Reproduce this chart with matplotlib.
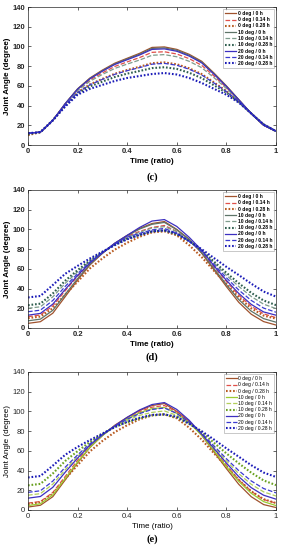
import matplotlib
matplotlib.use("Agg")
import matplotlib.pyplot as plt

plt.rcParams['font.family'] = ['Liberation Sans', 'DejaVu Sans']

time_ratio = [0, 0.05, 0.1, 0.15, 0.2, 0.25, 0.3, 0.35, 0.4, 0.45, 0.5,
              0.55, 0.6, 0.65, 0.7, 0.75, 0.8, 0.85, 0.9, 0.95, 1.0]

labels = ["0 deg / 0 h", "0 deg / 0.14 h", "0 deg / 0.28 h",
          "10 deg / 0 h", "10 deg / 0.14 h", "10 deg / 0.28 h",
          "20 deg / 0 h", "20 deg / 0.14 h", "20 deg / 0.28 h"]

# ---- panel (c) ----
c_0deg_0h    = [12, 13, 25, 42.0, 57.0, 68.0, 76.0, 83.0, 88.0, 93.0, 99.0, 99.5, 97.0, 92.0, 85.0, 73.0, 60.0, 46.0, 32, 20.0, 14]
c_0deg_014h  = [12, 13, 25, 41.4, 55.9, 66.0, 73.2, 79.7, 84.3, 88.7, 94.0, 94.6, 92.3, 87.6, 80.9, 70.0, 58.3, 45.4, 32, 20.2, 14]
c_0deg_028h  = [10, 13, 25, 40.2, 53.4, 61.5, 67.1, 72.3, 76.1, 79.4, 83.0, 83.8, 81.9, 77.8, 72.0, 63.5, 54.7, 44.2, 32, 20.6, 14]
c_10deg_0h   = [12, 13, 25, 41.9, 56.8, 67.6, 75.4, 82.3, 87.3, 92.1, 98.0, 98.5, 96.1, 91.1, 84.2, 72.4, 59.7, 45.9, 32, 20.0, 14]
c_10deg_014h = [12, 13, 25, 41.1, 55.2, 64.7, 71.6, 77.7, 82.1, 86.2, 91.0, 91.7, 89.5, 84.9, 78.5, 68.3, 57.3, 45.1, 32, 20.3, 14]
c_10deg_028h = [11, 13, 25, 39.7, 52.3, 59.4, 64.3, 69.0, 72.4, 75.1, 78.0, 78.9, 77.2, 73.3, 67.9, 60.6, 53.0, 43.7, 32, 20.8, 14]
c_20deg_0h   = [12, 13, 25, 41.8, 56.6, 67.2, 74.9, 81.7, 86.5, 91.3, 97.0, 97.5, 95.1, 90.2, 83.4, 71.8, 59.3, 45.8, 32, 20.1, 14]
c_20deg_014h = [12, 13, 25, 40.1, 53.2, 61.1, 66.6, 71.7, 75.4, 78.5, 82.0, 82.8, 80.9, 76.9, 71.1, 62.9, 54.3, 44.1, 32, 20.6, 14]
c_20deg_028h = [12, 13, 25, 39.0, 51.0, 57.0, 61.0, 65.0, 68.0, 70.0, 72.0, 73.0, 71.5, 68.0, 63.0, 57.0, 51.0, 43.0, 32, 21.0, 14]

# ---- panel (d) ----
d_0deg_0h    = [4.7, 6.4, 15.0, 31.8, 48.7, 64.0, 75.7, 86.0, 94.0, 101.0, 106.0, 108.0, 100.0, 90.0, 76.0, 59.0, 42.0, 26.0, 14.0, 6.5, 3.0]
d_0deg_014h  = [11.5, 13.2, 22.4, 37.8, 52.4, 65.7, 76.1, 85.5, 93.0, 98.0, 102.0, 104.0, 98.0, 89.5, 77.0, 62.1, 47.2, 33.2, 22.1, 14.4, 10.5]
d_0deg_028h  = [10.0, 11.6, 20.0, 34.0, 47.0, 60.5, 70.6, 79.5, 86.5, 92.6, 97.0, 98.0, 94.0, 84.0, 72.0, 58.0, 44.5, 31.0, 20.0, 12.6, 9.5]
d_10deg_0h   = [7.3, 9.0, 17.9, 34.1, 50.1, 64.7, 75.9, 85.8, 93.6, 100.4, 105.2, 107.1, 99.6, 89.8, 76.4, 60.2, 44.0, 28.8, 17.1, 9.5, 5.9]
d_10deg_014h = [20.0, 21.5, 31.6, 45.3, 57.0, 67.8, 76.7, 84.8, 91.7, 97.2, 101.4, 102.8, 97.7, 88.8, 78.3, 66.0, 53.6, 42.1, 32.0, 24.2, 19.7]
d_10deg_028h = [23.1, 24.7, 35.0, 48.0, 58.7, 68.6, 76.9, 84.6, 90.5, 94.5, 98.0, 99.0, 95.0, 88.0, 78.8, 67.4, 56.0, 45.4, 35.7, 27.9, 23.2]
d_20deg_0h   = [13.0, 14.8, 24.2, 39.2, 53.3, 66.1, 76.2, 86.0, 94.0, 102.0, 108.5, 110.0, 103.0, 92.0, 79.0, 63.0, 48.4, 35.0, 24.0, 16.3, 13.0]
d_20deg_014h = [16.5, 18.1, 27.9, 42.2, 55.1, 67.0, 76.5, 85.1, 92.2, 96.0, 99.5, 101.0, 96.0, 88.0, 77.8, 64.4, 51.0, 38.5, 28.0, 20.2, 16.0]
d_20deg_028h = [31.0, 32.5, 43.6, 55.0, 63.0, 70.6, 77.4, 84.0, 90.0, 94.5, 98.0, 99.0, 96.0, 88.0, 80.0, 71.0, 62.0, 53.7, 45.0, 37.0, 31.8]

# ---- panel (e) ----
e_0deg_0h    = [3.0, 4.8, 13.5, 30.5, 48.0, 63.5, 75.5, 86.0, 94.0, 101.0, 106.0, 108.0, 100.0, 90.0, 76.0, 59.0, 42.0, 26.0, 13.5, 5.5, 2.5]
e_0deg_014h  = [7.0, 8.6, 17.8, 34.0, 50.5, 64.8, 75.8, 85.5, 93.2, 99.8, 104.3, 106.0, 99.5, 89.6, 76.6, 61.0, 45.5, 30.5, 19.0, 10.6, 7.0]
e_0deg_028h  = [6.0, 7.8, 16.5, 31.5, 45.5, 59.5, 70.0, 79.0, 86.0, 92.0, 96.0, 97.0, 93.0, 83.5, 71.5, 57.5, 44.0, 30.5, 19.0, 11.0, 7.0]
e_10deg_0h   = [4.5, 6.3, 15.3, 32.0, 48.7, 63.8, 75.4, 85.2, 92.6, 98.6, 102.8, 104.0, 98.0, 88.5, 75.8, 60.0, 44.0, 29.0, 17.0, 8.5, 4.5]
e_10deg_014h = [15.0, 16.6, 26.2, 40.8, 54.3, 66.6, 76.4, 85.2, 91.0, 96.0, 99.0, 100.5, 96.0, 88.0, 77.6, 63.7, 49.8, 36.8, 26.1, 18.4, 14.2]
e_10deg_028h = [25.0, 26.5, 37.0, 49.7, 59.7, 69.1, 77.0, 84.5, 89.0, 93.0, 96.0, 97.0, 94.0, 87.5, 79.1, 68.2, 57.4, 47.3, 37.9, 30.0, 25.2]
e_20deg_0h   = [12.0, 13.7, 23.0, 38.3, 52.7, 65.8, 76.2, 85.4, 94.0, 101.5, 107.0, 109.0, 102.0, 91.0, 77.1, 62.4, 47.6, 33.8, 22.7, 15.0, 11.0]
e_20deg_014h = [17.9, 19.5, 29.3, 43.4, 55.9, 67.3, 76.6, 85.0, 92.0, 97.8, 102.0, 103.5, 98.0, 89.0, 78.0, 65.0, 52.0, 39.9, 29.5, 21.8, 17.4]
e_20deg_028h = [33.0, 34.5, 45.0, 56.0, 64.0, 71.0, 77.5, 84.0, 89.5, 93.5, 96.5, 97.0, 94.5, 87.5, 80.0, 71.5, 62.5, 54.0, 45.5, 38.0, 33.5]

x_ticks = [0, 0.2, 0.4, 0.6, 0.8, 1]
x_ticklabels = ["0", "0.2", "0.4", "0.6", "0.8", "1"]
y_ticks = [0, 20, 40, 60, 80, 100, 120, 140]
panel_letters = ["(c)", "(d)", "(e)"]

panels = [
    [c_0deg_0h, c_0deg_014h, c_0deg_028h, c_10deg_0h, c_10deg_014h, c_10deg_028h, c_20deg_0h, c_20deg_014h, c_20deg_028h],
    [d_0deg_0h, d_0deg_014h, d_0deg_028h, d_10deg_0h, d_10deg_014h, d_10deg_028h, d_20deg_0h, d_20deg_014h, d_20deg_028h],
    [e_0deg_0h, e_0deg_014h, e_0deg_028h, e_10deg_0h, e_10deg_014h, e_10deg_028h, e_20deg_0h, e_20deg_014h, e_20deg_028h],
]

colors_cd = ['#A0522D', '#E0504A', '#B85A20',
             '#5E7468', '#7E9C8C', '#2E5E4E',
             '#3C2FC0', '#3A3AD0', '#1A1AB8']
colors_e = ['#A0522D', '#E0504A', '#B85A20',
            '#9ACD32', '#B2CF5A', '#6AA121',
            '#3C2FC0', '#3A3AD0', '#1A1AB8']
styles = ['-', '--', ':', '-', '--', ':', '-', '--', ':']

fig = plt.figure(figsize=(2.81, 5.50), dpi=100)
ax_rects = [
    [28/281, 1 - 145/550, 248/281, 138/550],
    [28/281, 1 - 328/550, 248/281, 138/550],
    [28/281, 1 - 510/550, 248/281, 138/550],
]
letter_y = [177, 357, 539]

for i, (rect, series) in enumerate(zip(ax_rects, panels)):
    ax = fig.add_axes(rect)
    bold = 'bold' if i < 2 else 'normal'
    cols = colors_cd if i < 2 else colors_e
    for k, ys in enumerate(series):
        if styles[k] == ':':
            ax.plot(time_ratio, ys, color=cols[k], linestyle=(0, (0.8, 0.9)),
                    linewidth=1.5, label=labels[k])
        else:
            ax.plot(time_ratio, ys, color=cols[k], linestyle=styles[k],
                    linewidth=0.9, label=labels[k])
    ax.set_xlim(0, 1)
    ax.set_ylim(0, 140)
    ax.set_xticks(x_ticks)
    ax.set_xticklabels(x_ticklabels)
    ax.set_yticks(y_ticks)
    ax.tick_params(direction='in', length=2.5, width=0.5, labelsize=5.5,
                   pad=2, top=True, right=True, colors='#262626')
    for lab in ax.get_xticklabels() + ax.get_yticklabels():
        lab.set_fontweight(bold)
    for sp in ax.spines.values():
        sp.set_linewidth(0.5)
        sp.set_color('#262626')
    ax.set_xlabel("Time (ratio)", fontsize=5.8, fontweight=bold, labelpad=2.5)
    ax.set_ylabel("Joint Angle (degree)", fontsize=5.8, fontweight=bold, labelpad=1)
    leg = ax.legend(loc='upper right', fontsize=3.6, frameon=True, fancybox=False,
                    handlelength=2.2, handletextpad=0.3, labelspacing=0.25,
                    borderpad=0.4, borderaxespad=0.4)
    leg.get_frame().set_linewidth(0.4)
    leg.get_frame().set_edgecolor('#888888')
    for t in leg.get_texts():
        t.set_fontweight(bold)
    fig.text(152/281, 1 - letter_y[i]/550, panel_letters[i], ha='center', va='center',
             fontsize=7.5, family='Liberation Serif', fontweight='bold')

fig.savefig("out.png", dpi=100)
